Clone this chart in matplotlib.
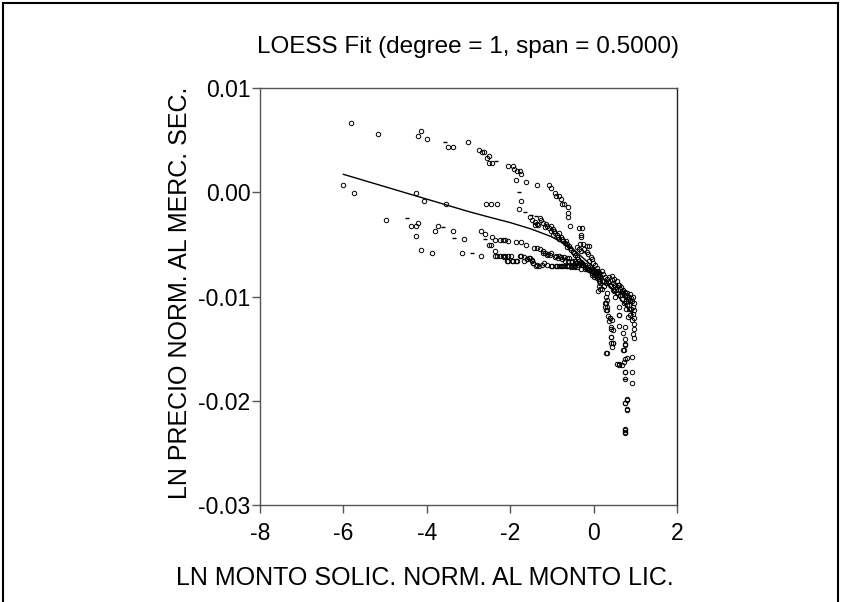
import numpy as np
import matplotlib
matplotlib.use("Agg")
import matplotlib.pyplot as plt
from matplotlib.lines import Line2D

plt.rcParams['font.family'] = ['Liberation Sans', 'DejaVu Sans']
plt.rcParams['axes.unicode_minus'] = False

# scattered points on the left side
left_pts = [(-5.82, 0.00664), (-5.18, 0.00562), (-4.13, 0.00588), (-4.20, 0.00537),
            (-4.00, 0.00510), (-3.48, 0.00431), (-3.36, 0.00431), (-3.02, 0.00485),
            (-6.01, 0.00070), (-5.75, -0.00007), (-4.26, -0.00007), (-4.07, -0.00087),
            (-3.54, -0.00113), (-4.98, -0.00269), (-4.39, -0.00320), (-4.27, -0.00320),
            (-4.20, -0.00295), (-3.74, -0.00320), (-3.80, -0.00371), (-3.36, -0.00371),
            (-3.10, -0.00450), (-4.26, -0.00422), (-4.13, -0.00553), (-3.88, -0.00582),
            (-3.16, -0.00582)]

upper_band = [(-2.76, 0.00409), (-2.68, 0.00384), (-2.63, 0.00384), (-2.56, 0.00329),
              (-2.50, 0.00351), (-2.50, 0.00278), (-2.44, 0.00278), (-2.05, 0.00252),
              (-1.93, 0.00252), (-1.90, 0.00223), (-1.83, 0.00201), (-1.77, 0.00201),
              (-1.73, 0.00175), (-1.85, 0.00118), (-1.61, 0.00096), (-1.35, 0.00067),
              (-1.08, 0.00067), (-1.02, 0.00041), (-0.92, -0.00010), (-0.89, -0.00036),
              (-0.82, -0.00036), (-0.79, -0.00062), (-0.76, -0.00113), (-0.72, -0.00113),
              (-0.61, -0.00141), (-0.61, -0.00195), (-0.61, -0.00239), (-0.56, -0.00323),
              (-0.35, -0.00345), (-0.29, -0.00345), (-0.30, -0.00407), (-0.30, -0.00432),
              (-0.33, -0.00500), (-0.26, -0.00500), (-0.17, -0.00520), (-0.10, -0.00520),
              (-0.10, -0.00662), (-0.405, -0.00522), (-0.357, -0.00547), (-0.293, -0.00560),
              (-0.230, -0.00547), (-0.166, -0.00573), (-0.134, -0.00592), (-0.070, -0.00618),
              (-0.038, -0.00643), (-0.006, -0.00675), (0.026, -0.00701), (0.074, -0.00726),
              (0.106, -0.00752), (0.138, -0.00777)]

middle_band = [(-2.58, -0.00112), (-2.45, -0.00112), (-2.32, -0.00112), (-1.73, -0.00087),
               (-1.79, -0.00163), (-1.53, -0.00240), (-1.48, -0.00266), (-1.41, -0.00288),
               (-1.35, -0.00301), (-1.29, -0.00250), (-1.26, -0.00266), (-1.41, -0.00317),
               (-1.33, -0.00317), (-1.205, -0.00292), (-1.141, -0.00304), (-1.173, -0.00330),
               (-1.109, -0.00324), (-1.077, -0.00343), (-1.013, -0.00324), (-0.981, -0.00349),
               (-1.013, -0.00368), (-0.949, -0.00368), (-0.917, -0.00387), (-0.965, -0.00407),
               (-0.885, -0.00407), (-0.837, -0.00387), (-0.853, -0.00426), (-0.789, -0.00426),
               (-0.821, -0.00451), (-0.757, -0.00445), (-0.725, -0.00471), (-0.693, -0.00490),
               (-0.661, -0.00471), (-0.629, -0.00496), (-0.597, -0.00515), (-0.645, -0.00522),
               (-0.565, -0.00534), (-0.533, -0.00554), (-0.501, -0.00573), (-0.469, -0.00586),
               (-0.437, -0.00605), (-0.405, -0.00618), (-0.373, -0.00637), (-0.341, -0.00656),
               (-0.309, -0.00669), (-0.277, -0.00682), (-0.246, -0.00694), (-0.198, -0.00714),
               (-0.166, -0.00733), (-0.118, -0.00746), (-0.070, -0.00758), (-0.038, -0.00777),
               (0.010, -0.00790), (0.058, -0.00803), (0.106, -0.00816), (0.138, -0.00829)]

lower_band = [(-2.71, -0.00607), (-2.71, -0.00374), (-2.60, -0.00403), (-2.50, -0.00505),
              (-2.45, -0.00505), (-2.44, -0.00429), (-2.37, -0.00455), (-2.24, -0.00455),
              (-2.18, -0.00455), (-2.12, -0.00455), (-2.05, -0.00464), (-2.37, -0.00560),
              (-2.37, -0.00608), (-2.31, -0.00608), (-2.24, -0.00608), (-2.18, -0.00608),
              (-2.12, -0.00608), (-2.05, -0.00608), (-1.99, -0.00608), (-2.05, -0.00660),
              (-1.93, -0.00660), (-1.86, -0.00660), (-1.86, -0.00480), (-1.73, -0.00480),
              (-1.61, -0.00505), (-1.73, -0.00608), (-1.67, -0.00660), (-1.60, -0.00644),
              (-1.54, -0.00635), (-1.48, -0.00660), (-1.42, -0.00531), (-1.36, -0.00531),
              (-1.29, -0.00547), (-1.22, -0.00563), (-1.16, -0.00579), (-1.09, -0.00592),
              (-1.03, -0.00579), (-1.45, -0.00681), (-1.39, -0.00707), (-1.32, -0.00707),
              (-1.19, -0.00680), (-1.03, -0.00707), (-0.90, -0.00707), (-0.84, -0.00707),
              (-0.77, -0.00707), (-0.71, -0.00707), (-0.64, -0.00707), (-0.58, -0.00707),
              (-0.52, -0.00712), (-0.45, -0.00707), (-0.90, -0.00608), (-0.84, -0.00608),
              (-0.77, -0.00617), (-0.71, -0.00617), (-0.64, -0.00633), (-0.58, -0.00633),
              (-0.52, -0.00659), (-0.45, -0.00659), (-0.39, -0.00681), (-0.33, -0.00681),
              (-0.26, -0.00700), (-0.20, -0.00700), (-0.13, -0.00720), (-0.07, -0.00739),
              (-0.01, -0.00752), (0.06, -0.00764), (0.12, -0.00777), (-2.149, -0.00624),
              (-2.069, -0.00656), (-1.957, -0.00656), (-1.845, -0.00656), (-1.765, -0.00611),
              (-1.669, -0.00624), (-1.605, -0.00643), (-1.526, -0.00630), (-1.478, -0.00650),
              (-1.446, -0.00681), (-1.366, -0.00701), (-1.238, -0.00701), (-1.126, -0.00701),
              (-1.006, -0.00707), (-0.886, -0.00707), (-0.766, -0.00707), (-0.646, -0.00707),
              (-0.550, -0.00713), (-0.470, -0.00720), (-0.390, -0.00720), (-0.294, -0.00733),
              (-0.198, -0.00739), (-0.103, -0.00745), (-1.206, -0.00586), (-1.126, -0.00598),
              (-1.046, -0.00605), (-0.926, -0.00618), (-0.846, -0.00630), (-0.766, -0.00643),
              (-0.686, -0.00656), (-0.606, -0.00662), (-0.526, -0.00669), (-0.446, -0.00681),
              (-0.366, -0.00694), (-0.286, -0.00701), (-0.207, -0.00713), (-0.151, -0.00726)]

cluster = [(-0.047, -0.00745), (-0.007, -0.00765), (0.033, -0.00784), (0.073, -0.00752),
           (0.113, -0.00777), (0.153, -0.00803), (0.073, -0.00822), (0.121, -0.00848),
           (0.153, -0.00873), (0.121, -0.00899), (0.153, -0.00924), (0.105, -0.00950),
           (0.193, -0.00758), (0.233, -0.00784), (0.273, -0.00809), (0.313, -0.00835),
           (0.249, -0.00854), (0.297, -0.00873), (0.353, -0.00860), (0.393, -0.00886),
           (0.433, -0.00841), (0.473, -0.00867), (0.513, -0.00893), (0.553, -0.00912),
           (0.593, -0.00886), (0.633, -0.00931), (0.673, -0.00950), (0.713, -0.00963),
           (0.753, -0.00982), (0.793, -0.01001), (0.833, -0.01020), (0.873, -0.01033),
           (0.473, -0.00937), (0.553, -0.00963), (0.513, -0.01001), (0.633, -0.00985),
           (0.673, -0.01027), (0.729, -0.01065), (0.777, -0.01116), (0.833, -0.01193),
           (0.45, -0.0080), (0.50, -0.0083), (0.55, -0.0085), (0.60, -0.0089),
           (0.65, -0.0091), (0.70, -0.0094), (0.75, -0.0096), (0.80, -0.0097),
           (0.85, -0.0100), (0.38, -0.0081), (0.42, -0.0090), (0.48, -0.0095),
           (0.58, -0.0094), (0.68, -0.0099), (0.78, -0.0104), (0.20, -0.0085),
           (0.25, -0.0090), (0.20, -0.0093), (0.05, -0.0079), (0.00, -0.0081),
           (-0.05, -0.0079), (0.88, -0.0098), (0.90, -0.0101), (0.92, -0.0104),
           (0.95, -0.0100), (0.96, -0.0106), (0.94, -0.0110), (0.97, -0.0113),
           (0.95, -0.0117), (0.97, -0.0121), (0.96, -0.0126), (0.97, -0.0131),
           (0.95, -0.0136), (0.97, -0.0140), (0.90, -0.0112), (0.88, -0.0118),
           (0.91, -0.0123), (0.86, -0.0108), (0.84, -0.0112), (0.82, -0.0104),
           (0.80, -0.0108)]

tail = [(0.313, -0.00969), (0.297, -0.01001), (0.329, -0.01033), (0.297, -0.01065),
        (0.329, -0.01103), (0.329, -0.01129), (0.393, -0.01209), (0.361, -0.01231),
        (0.425, -0.01295), (0.457, -0.01321), (0.409, -0.01391), (0.473, -0.01449),
        (0.441, -0.01481), (0.313, -0.01545), (0.617, -0.01097), (0.617, -0.01180),
        (0.753, -0.01289), (0.697, -0.01353), (0.745, -0.01455), (0.713, -0.01513),
        (0.745, -0.01596), (0.681, -0.01660), (0.601, -0.01660), (0.745, -0.01724),
        (0.745, -0.01794), (0.793, -0.01992), (0.761, -0.02024), (0.809, -0.02082),
        (0.761, -0.02280), (0.761, -0.02306), (0.27, -0.01065), (0.27, -0.01097),
        (0.30, -0.0113), (0.35, -0.0119), (0.39, -0.0121), (0.43, -0.0123),
        (0.42, -0.01314), (0.41, -0.01385), (0.42, -0.01442), (0.46, -0.01442),
        (0.29, -0.01545), (0.61, -0.01177), (0.61, -0.01283), (0.55, -0.01647),
        (0.62, -0.01647), (0.75, -0.0141), (0.75, -0.01465), (0.73, -0.01513),
        (0.74, -0.01625), (0.79, -0.01592), (0.75, -0.0172), (0.93, -0.01577),
        (0.93, -0.0172), (0.93, -0.01826), (0.80, -0.01986), (0.75, -0.02024),
        (0.80, -0.02088), (0.75, -0.02273), (0.75, -0.02295)]

# points that render as tiny dashes in the original
dash_pts = [(-3.56, 0.0048), (-4.48, -0.0025), (-3.62, -0.00333), (-3.35, -0.00435),
            (-2.34, 0.00297), (-1.79, 0.00006), (-2.92, -0.0058), (-2.60, -0.00445),
            (-0.23, -0.00573), (0.75, -0.01793), (-1.65, -0.0019), (-1.51, -0.00215),
            (-1.37, -0.00225)]

loess_x = [-6.0, -5.0, -4.0, -3.0, -2.5, -2.0, -1.5, -1.0, -0.5, 0.0, 0.3, 0.6, 0.95]
loess_y = [0.00172, 0.00053, -0.00066, -0.00185, -0.00239, -0.00291, -0.00352,
           -0.00428, -0.00542, -0.00720, -0.00860, -0.01005, -0.01175]

pts = np.array(left_pts + upper_band + middle_band + lower_band + cluster + tail)
dashes = np.array(dash_pts)

fig = plt.figure(figsize=(8.5, 6.02), dpi=100)
ax = fig.add_axes([260/850, 1-505/602, 417/850, 417/602])

ax.plot(pts[:, 0], pts[:, 1], 'o', ls='none', ms=3.2, mfc='none', mec='black', mew=0.7)
ax.plot(dashes[:, 0], dashes[:, 1], '_', ls='none', ms=3, mec='black', mew=1)
ax.plot(loess_x, loess_y, color='black', lw=1)

ax.set_xlim(-8, 2)
ax.set_ylim(-0.03, 0.01)
ax.set_xticks([-8, -6, -4, -2, 0, 2])
ax.set_yticks([-0.03, -0.02, -0.01, 0.0, 0.01])
ax.set_yticklabels(['-0.03', '-0.02', '-0.01', '0.00', '0.01'])
ax.tick_params(direction='out', length=6, width=1, color='#555555', labelsize=16.5)
ax.tick_params(axis='y', pad=1)
ax.tick_params(axis='x', pad=6)
for s in ax.spines.values():
    s.set_color('#555555')
    s.set_linewidth(1)
ax.spines['right'].set_color('#222222')

fig.text(468/850, 1-47/602, 'LOESS Fit (degree = 1, span = 0.5000)',
         ha='center', va='center', fontsize=17.5)
fig.text(425/850, 1-578/602, 'LN MONTO SOLIC. NORM. AL MONTO LIC.',
         ha='center', va='center', fontsize=18)
fig.text(180/850, 1-293/602, 'LN PRECIO NORM. AL MERC. SEC.',
         ha='center', va='center', rotation=90, fontsize=18)

# outer frame of the graph window
fx0, fx1, fy1 = 3/850, 838/850, 1-3/602
fig.add_artist(Line2D([fx0, fx0], [0, fy1], transform=fig.transFigure, color='black', lw=1.5))
fig.add_artist(Line2D([fx0, fx1], [fy1, fy1], transform=fig.transFigure, color='black', lw=1.5))
fig.add_artist(Line2D([fx1, fx1], [0, fy1], transform=fig.transFigure, color='black', lw=1.5))

fig.savefig('out.png', dpi=100)
